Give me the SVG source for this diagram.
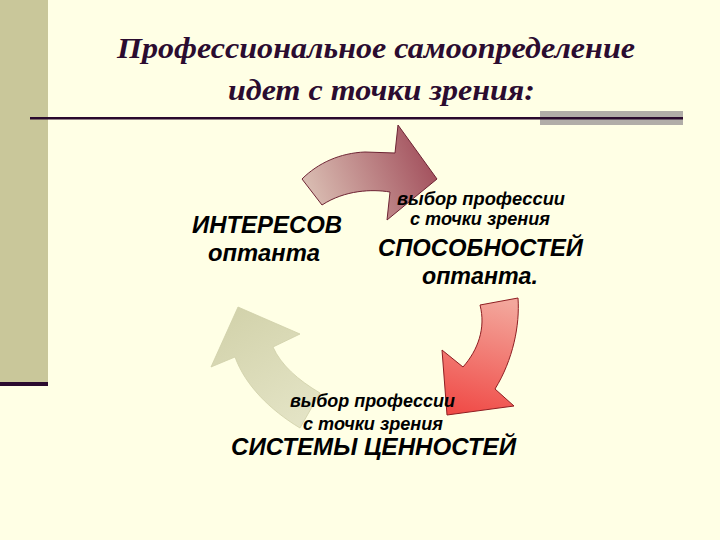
<svg xmlns="http://www.w3.org/2000/svg" width="720" height="540" viewBox="0 0 720 540">
<defs>
<linearGradient id="gTop" gradientUnits="userSpaceOnUse" x1="305" y1="200" x2="430" y2="150">
<stop offset="0" stop-color="#dcc2b6"/>
<stop offset="1" stop-color="#a24f5c"/>
</linearGradient>
<linearGradient id="gRed" gradientUnits="userSpaceOnUse" x1="500" y1="300" x2="470" y2="415">
<stop offset="0" stop-color="#f3a79c"/>
<stop offset="1" stop-color="#f04c48"/>
</linearGradient>
<linearGradient id="gGreen" gradientUnits="userSpaceOnUse" x1="240" y1="310" x2="310" y2="420">
<stop offset="0" stop-color="#d3d3ac"/>
<stop offset="1" stop-color="#e4e4c6"/>
</linearGradient>
<style>
.title{font-family:"Liberation Serif","Times New Roman",serif;font-weight:bold;font-style:italic;font-size:30px;fill:#2b0c30}
.big{font-family:"Liberation Sans",Arial,sans-serif;font-weight:bold;font-style:italic;font-size:23px;fill:#000}
.small{font-family:"Liberation Sans",Arial,sans-serif;font-weight:bold;font-style:italic;font-size:18px;fill:#000}
.rule{fill:#2a0a2e}
</style>
</defs>
<rect width="720" height="540" fill="#ffffe5"/>
<g id="decor">
<rect x="0" y="0" width="48" height="382" fill="#c9c79a"/>
<rect x="0" y="382" width="48" height="4" class="rule"/>
<rect x="540" y="111" width="143" height="14" fill="#b1ada8"/>
<rect x="30" y="117" width="653" height="2.5" class="rule"/>
</g>
<g id="title">
<text class="title" x="117" y="58" textLength="518" lengthAdjust="spacingAndGlyphs">Профессиональное самоопределение</text>
<text class="title" x="228" y="100" textLength="307" lengthAdjust="spacingAndGlyphs">идет с точки зрения:</text>
</g>
<g id="connectors">
<path id="arrow-top" d="M302,179 C318,163 340,153 365,152 L395,153 L398,125 L437,179 L387,220 L390,192 C372,189 345,190 322,205 Z" fill="url(#gTop)" stroke="#6e2434" stroke-width="1"/>
<path id="arrow-right" d="M480,305 L518,298 C520,325 513,360 495,389 L514,406 L447,415 L442,350 L463,367 C478,350 486,328 480,305 Z" fill="url(#gRed)" stroke="#8e1e22" stroke-width="1"/>
<path id="arrow-left" d="M238,307 L300,334 L273,347 C281,365 298,380 320,393 L300,428 C270,410 245,385 235,357 L211,367 Z" fill="url(#gGreen)" stroke="#cfcfa8" stroke-width="0.8"/>
</g>
<g id="node-interests">
<text class="big" x="192" y="233" textLength="150" lengthAdjust="spacingAndGlyphs">ИНТЕРЕСОВ</text>
<text class="big" x="208" y="261" textLength="112" lengthAdjust="spacingAndGlyphs">оптанта</text>
</g>
<g id="node-abilities">
<text class="small" x="397" y="205" textLength="168" lengthAdjust="spacingAndGlyphs">выбор профессии</text>
<text class="small" x="410" y="225" textLength="140" lengthAdjust="spacingAndGlyphs">с точки зрения</text>
<text class="big" x="378" y="256" textLength="205" lengthAdjust="spacingAndGlyphs">СПОСОБНОСТЕЙ</text>
<text class="big" x="422" y="284" textLength="116" lengthAdjust="spacingAndGlyphs">оптанта.</text>
</g>
<g id="node-values">
<text class="small" x="290" y="407" textLength="165" lengthAdjust="spacingAndGlyphs">выбор профессии</text>
<text class="small" x="303" y="430" textLength="140" lengthAdjust="spacingAndGlyphs">с точки зрения</text>
<text class="big" x="231" y="455" textLength="285" lengthAdjust="spacingAndGlyphs">СИСТЕМЫ ЦЕННОСТЕЙ</text>
</g>
</svg>
